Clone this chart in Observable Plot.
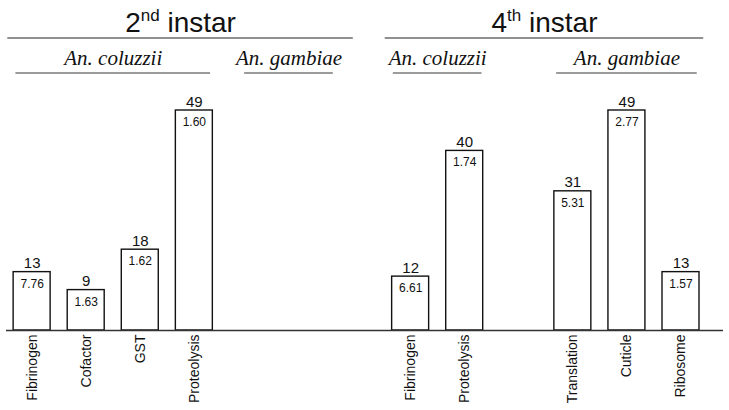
<!DOCTYPE html>
<html>
<head>
<meta charset="utf-8">
<script src="https://cdn.jsdelivr.net/npm/d3@7"></script>
<script src="https://cdn.jsdelivr.net/npm/@observablehq/plot@0.6"></script>
<style>
  html, body { margin: 0; padding: 0; background: #fff; }
  #chart svg text { font-family: "Liberation Sans", Arial, sans-serif; }
  #chart svg text.species { font-family: "Liberation Serif", "Times New Roman", serif; font-style: italic; }
</style>
</head>
<body>
<div id="chart"></div>
<script>
// ---- Data ----
const instars = ["2nd", "4th"];
const instarNumbers = ["2", "4"];
const instarOrdinals = ["nd", "th"];
const speciesNames = ["An. coluzzii", "An. gambiae"];

const categories = ["Fibrinogen", "Cofactor", "GST", "Proteolysis",
                    "Fibrinogen", "Proteolysis", "Translation", "Cuticle", "Ribosome"];
const barInstar  = ["2nd", "2nd", "2nd", "2nd", "4th", "4th", "4th", "4th", "4th"];
const barSpecies = ["An. coluzzii", "An. coluzzii", "An. coluzzii", "An. coluzzii",
                    "An. coluzzii", "An. coluzzii", "An. gambiae", "An. gambiae", "An. gambiae"];
const geneCounts  = [13, 9, 18, 49, 12, 40, 31, 49, 13];
const foldValues  = [7.76, 1.63, 1.62, 1.60, 6.61, 1.74, 5.31, 2.77, 1.57];

// ---- Layout in column slots: one empty slot between groups ----
const rows = [];
const groupSpans = [];
let slot = 0;
instars.forEach((inst) => {
  speciesNames.forEach((sp) => {
    const idx = categories.map((_, i) => i).filter(i => barInstar[i] === inst && barSpecies[i] === sp);
    const first = slot;
    if (idx.length === 0) slot += 1;
    idx.forEach(i => {
      rows.push({category: categories[i], count: geneCounts[i], fold: foldValues[i], slot});
      slot += 1;
    });
    const last = slot - 1;
    // an empty group's header sits partly in the gap before it
    const c = idx.length ? (first + last) / 2 : first - 0.25;
    const half = Math.max((last - first) / 2 + 0.3, 0.82);
    groupSpans.push({instar: inst, species: sp, x1: c - half, x2: c + half, cx: c});
    slot += 1;
  });
});
const lastSlot = d3.max(rows, d => d.slot);
const instarSpans = instars.map((inst, i) => {
  const g = groupSpans.filter(d => d.instar === inst);
  const x1 = (i === 0 ? d3.min(rows, d => d.slot) - 0.3 : d3.min(g, d => d.x1)) - 0.15;
  const x2 = (i === 0 ? d3.max(g, d => d.x2) + 0.25 : d3.max(g, d => d.x2)) + 0.12;
  return {instar: inst, label: instarNumbers[i] + instarOrdinals[i] + " instar", x1, x2, cx: (x1 + x2) / 2};
});
const yTop = d3.max(geneCounts);

const plot = Plot.plot({
  width: 729,
  height: 410,
  marginLeft: 6,
  marginRight: 6,
  marginTop: 110,
  marginBottom: 80,
  x: {axis: null, domain: [-0.474, lastSlot + 0.786]},
  y: {axis: null, domain: [0, yTop]},
  style: {background: "white", color: "#111", overflow: "visible"},
  marks: [
    Plot.rectY(rows, {
      x1: d => d.slot - 0.342, x2: d => d.slot + 0.342,
      y1: () => 0, y2: "count",
      fill: "white", stroke: "#111", strokeWidth: 1.4
    }),
    Plot.ruleY([0], {stroke: "#333", strokeWidth: 1.5}),
    Plot.text(rows, {
      x: "slot", y: "count", text: d => String(d.count),
      lineAnchor: "bottom", dy: -4, fontSize: 15, fill: "#111"
    }),
    Plot.text(rows, {
      x: "slot", y: "count", text: d => d3.format(".2f")(d.fold),
      lineAnchor: "top", dy: 7, fontSize: 12, fill: "#111"
    }),
    Plot.text(rows, {
      x: "slot", y: () => 0, text: "category",
      rotate: -90, textAnchor: "end", dy: 4, fontSize: 14, fill: "#111"
    }),
    // instar headers
    Plot.ruleY(instarSpans, {
      y: () => yTop, x1: "x1", x2: "x2", dy: -72.5, stroke: "#222", strokeWidth: 1.2
    }),
    Plot.text(instarSpans, {
      x: "cx", frameAnchor: "top", text: "label",
      lineAnchor: "bottom", dy: -78.3, fontSize: 28, fill: "#111"
    }),
    // species headers
    Plot.ruleY(groupSpans, {
      y: () => yTop, x1: "x1", x2: "x2", dy: -37.5, stroke: "#7a7a7a", strokeWidth: 1.5
    }),
    Plot.text(groupSpans, {
      x: "cx", frameAnchor: "top", text: "species",
      lineAnchor: "bottom", dy: -45.5, fontSize: 21, fontStyle: "italic", fill: "#111"
    })
  ]
});

const ns = "http://www.w3.org/2000/svg";
const titleLabels = instarSpans.map(d => d.label);
plot.querySelectorAll("text").forEach(t => {
  if (speciesNames.includes(t.textContent)) {
    t.setAttribute("class", "species");
    return;
  }
  const i = titleLabels.indexOf(t.textContent);
  if (i < 0) return;
  t.textContent = "";
  const a = document.createElementNS(ns, "tspan");
  a.textContent = instarNumbers[i];
  const b = document.createElementNS(ns, "tspan");
  b.textContent = instarOrdinals[i];
  b.setAttribute("font-size", "17");
  b.setAttribute("dy", "-11.5");
  const c = document.createElementNS(ns, "tspan");
  c.textContent = " instar";
  c.setAttribute("dy", "11.5");
  t.append(a, b, c);
});

document.getElementById("chart").appendChild(plot);
</script>
</body>
</html>
